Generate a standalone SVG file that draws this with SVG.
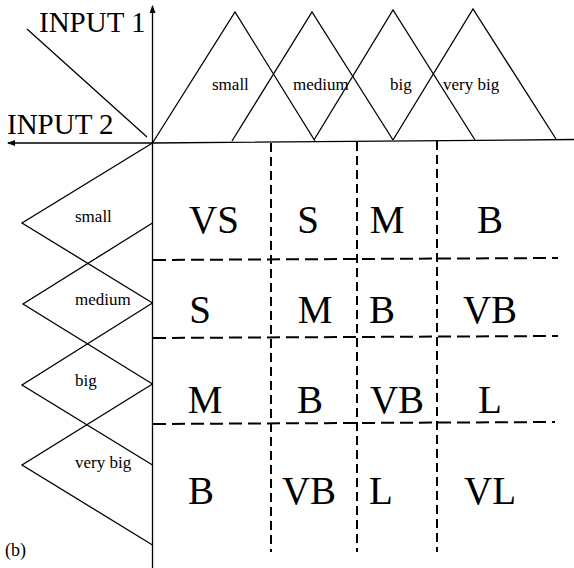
<svg xmlns="http://www.w3.org/2000/svg" width="574" height="568" viewBox="0 0 574 568">
  <defs>
    <marker id="arrow" viewBox="0 0 8 6" refX="7" refY="3" markerWidth="8" markerHeight="6" markerUnits="userSpaceOnUse" orient="auto">
      <path d="M0,0 L8,3 L0,6 Z" fill="#000"/>
    </marker>
    <style>
      .ln { fill: none; stroke: #000; stroke-width: 1.3; }
      .vdash { fill: none; stroke: #000; stroke-width: 2; stroke-dasharray: 9 5; }
      .hdash { fill: none; stroke: #000; stroke-width: 2; stroke-dasharray: 13 6; }
      text { fill: #000; }
      .axis-title { font-size: 29px; }
      .mf { font-size: 17px; }
      .cell { font-size: 39px; text-anchor: middle; }
      .cap { font-size: 18px; }
    </style>
  </defs>

  <g font-family="Liberation Serif, Times New Roman, serif">
  <!-- axes and corner divider -->
  <g id="axes">
    <line class="ln" x1="152.5" y1="568" x2="152.5" y2="6" marker-end="url(#arrow)"/>
    <polyline class="ln" points="574,139.5 152.5,143 8,143" marker-end="url(#arrow)"/>
    <line class="ln" x1="27" y1="29" x2="147" y2="137"/>
    <text class="axis-title" x="39" y="32">INPUT 1</text>
    <text class="axis-title" x="7" y="134">INPUT 2</text>
  </g>

  <!-- membership functions of input 1 (top) -->
  <g id="in1-small">
    <polyline class="ln" points="152.5,143 235,12 315,141"/>
    <text class="mf" x="212" y="90">small</text>
  </g>
  <g id="in1-medium">
    <polyline class="ln" points="232,141 312,12 393,140"/>
    <text class="mf" x="293" y="90">medium</text>
  </g>
  <g id="in1-big">
    <polyline class="ln" points="314,140 393,10 475,140"/>
    <text class="mf" x="390" y="90">big</text>
  </g>
  <g id="in1-verybig">
    <polyline class="ln" points="393,140 473,9 556,139"/>
    <text class="mf" x="443" y="90">very big</text>
  </g>

  <!-- membership functions of input 2 (left) -->
  <g id="in2-small">
    <polyline class="ln" points="152.5,143 22,223 152.5,303"/>
    <text class="mf" x="75" y="222">small</text>
  </g>
  <g id="in2-medium">
    <polyline class="ln" points="152.5,223 23,304 152.5,384"/>
    <text class="mf" x="75" y="305">medium</text>
  </g>
  <g id="in2-big">
    <polyline class="ln" points="152.5,303 22,385 152.5,465"/>
    <text class="mf" x="75" y="386">big</text>
  </g>
  <g id="in2-verybig">
    <polyline class="ln" points="152.5,384 22,465 152.5,545"/>
    <text class="mf" x="75" y="468">very big</text>
  </g>

  <!-- rule table grid -->
  <g id="grid">
    <line class="vdash" x1="271" y1="143" x2="271" y2="552"/>
    <line class="vdash" x1="357" y1="142" x2="357" y2="552"/>
    <line class="vdash" x1="437" y1="141" x2="437" y2="552"/>
    <line class="hdash" x1="153" y1="260" x2="558" y2="258"/>
    <line class="hdash" x1="153" y1="338" x2="558" y2="336"/>
    <line class="hdash" x1="153" y1="424" x2="555" y2="422"/>
  </g>

  <!-- rule outputs -->
  <g id="rules">
    <text class="cell" x="214" y="233">VS</text>
    <text class="cell" x="308" y="233">S</text>
    <text class="cell" x="387" y="233">M</text>
    <text class="cell" x="490" y="233">B</text>

    <text class="cell" x="200" y="323">S</text>
    <text class="cell" x="315" y="323">M</text>
    <text class="cell" x="382" y="323">B</text>
    <text class="cell" x="490" y="323">VB</text>

    <text class="cell" x="205" y="413">M</text>
    <text class="cell" x="310" y="413">B</text>
    <text class="cell" x="397" y="413">VB</text>
    <text class="cell" x="490" y="413">L</text>

    <text class="cell" x="201" y="504">B</text>
    <text class="cell" x="309" y="504">VB</text>
    <text class="cell" x="381" y="504">L</text>
    <text class="cell" x="490" y="504">VL</text>
  </g>

  <text class="cap" x="5" y="556">(b)</text>
  </g>
</svg>
